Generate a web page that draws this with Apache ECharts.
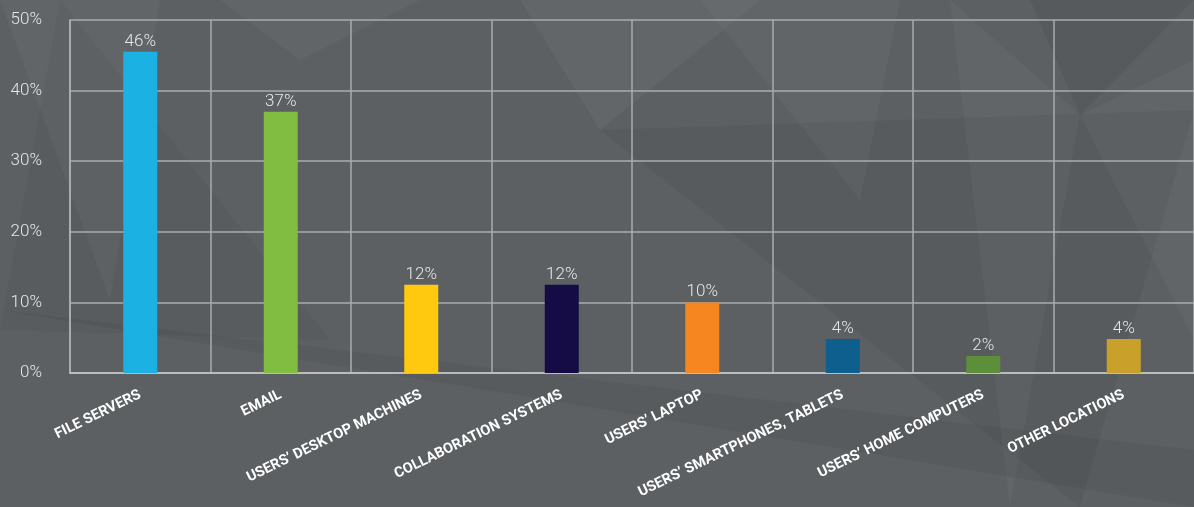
<!DOCTYPE html>
<html><head><meta charset="utf-8">
<script src="https://cdn.jsdelivr.net/npm/echarts@6/dist/echarts.min.js"></script>
<style>html,body{margin:0;padding:0;background:#5c6063;}#c{width:1194px;height:507px;}</style>
</head><body><div id="c"></div>
<script>
const categories = ['FILE SERVERS','EMAIL','USERS’ DESKTOP MACHINES','COLLABORATION SYSTEMS','USERS’ LAPTOP','USERS’ SMARTPHONES, TABLETS','USERS’ HOME COMPUTERS','OTHER LOCATIONS'];
const values = [45.5, 37, 12.5, 12.5, 10, 4.8, 2.4, 4.8];
const valueLabels = ['46%','37%','12%','12%','10%','4%','2%','4%'];
const barColors = ['#1bb1e3','#80bd41','#fec90e','#150c45','#f58620','#0f5f8e','#5d8e3a','#c8a02a'];
const yTicks = [0,10,20,30,40,50];

const tri = (pts, fill) => ({type:'polygon', silent:true, z:-10, shape:{points:pts}, style:{fill:fill}});
const chart = echarts.init(document.getElementById('c'));
chart.setOption({
  backgroundColor:'#5c6063',
  animation:false,
  graphic:[
    tri([[0,0],[160,0],[110,300]],'rgba(255,255,255,0.035)'),
    tri([[60,0],[330,340],[0,330]],'rgba(0,0,0,0.04)'),
    tri([[520,0],[760,0],[600,130]],'rgba(255,255,255,0.04)'),
    tri([[600,130],[1194,110],[1080,507]],'rgba(0,0,0,0.05)'),
    tri([[1030,0],[1194,0],[1080,115]],'rgba(0,0,0,0.06)'),
    tri([[950,0],[1080,115],[1010,507]],'rgba(255,255,255,0.03)'),
    tri([[0,310],[1194,450],[1194,507]],'rgba(0,0,0,0.05)'),
    tri([[220,0],[420,0],[300,60]],'rgba(255,255,255,0.03)'),
    tri([[700,0],[900,0],[860,200]],'rgba(255,255,255,0.03)'),
    tri([[1080,115],[1194,60],[1194,340]],'rgba(255,255,255,0.03)')
  ],
  grid:{left:70, right:-4, top:20, bottom:134, containLabel:false},
  xAxis:{
    type:'category', data:categories,
    axisLine:{show:true, lineStyle:{color:'#c8c8c8', width:1.5}},
    axisTick:{show:false},
    splitLine:{show:true, interval:0, lineStyle:{color:'#a9acae', width:1.5}},
    axisLabel:{interval:0, rotate:26, margin:21, color:'#ffffff', fontFamily:'Roboto', fontWeight:'bold', fontSize:14.5}
  },
  yAxis:{
    type:'value', min:0, max:50, interval:10,
    axisLine:{show:true, lineStyle:{color:'#b0b3b5', width:1.5}},
    axisTick:{show:false},
    splitLine:{show:true, lineStyle:{color:'#a9acae', width:1.5}},
    axisLabel:{margin:28, color:'#e6e6e6', fontFamily:'Roboto', fontWeight:300, fontSize:17,
      formatter:v => yTicks.includes(v) ? v + '%' : ''}
  },
  series:[{
    type:'bar', barWidth:34,
    data:values.map((v,i)=>({value:v, itemStyle:{color:barColors[i]}})),
    label:{show:true, position:'top', distance:2, color:'#e6e6e6', fontFamily:'Roboto', fontWeight:300, fontSize:17,
      formatter:p => valueLabels[p.dataIndex]}
  }]
});
</script></body></html>
